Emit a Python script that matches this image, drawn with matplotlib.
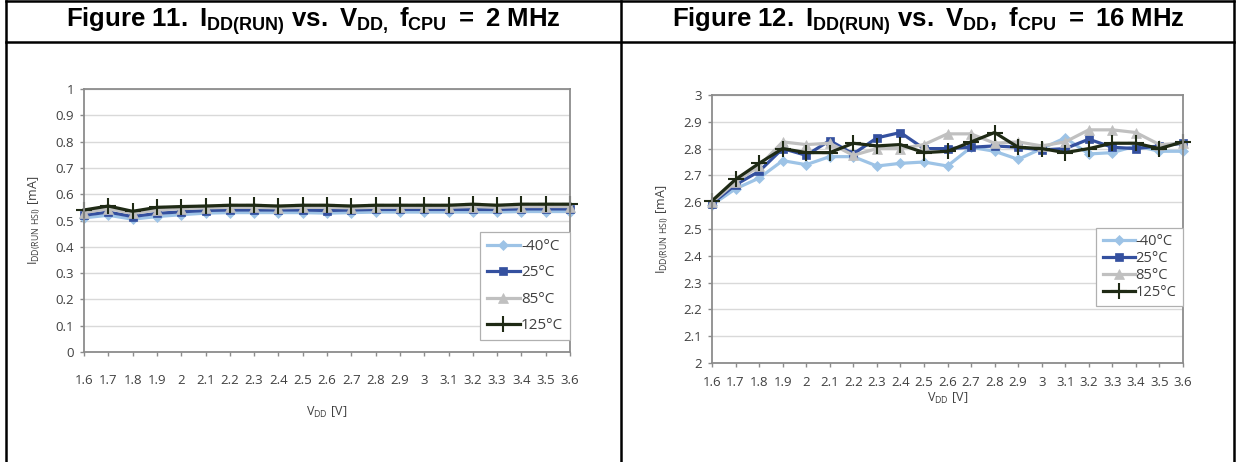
import matplotlib
matplotlib.use('Agg')
import matplotlib.pyplot as plt
from matplotlib.lines import Line2D
from matplotlib import font_manager

# supply voltage categories (x axis is categorical, evenly spaced)
vdd_labels = ['1.6', '1.7', '1.8', '1.9', '2', '2.1', '2.2', '2.3', '2.4', '2.5', '2.6',
              '2.7', '2.8', '2.9', '3', '3.1', '3.2', '3.3', '3.4', '3.5', '3.6']
temp_labels = ['-40°C', '25°C', '85°C', '125°C']

# Figure 11, fCPU = 2 MHz, IDD in mA
idd_2mhz_m40 = [0.510, 0.520, 0.505, 0.515, 0.522, 0.528, 0.530, 0.530, 0.530, 0.530, 0.528,
                0.530, 0.532, 0.532, 0.532, 0.532, 0.532, 0.532, 0.534, 0.534, 0.534]
idd_2mhz_25 = [0.520, 0.532, 0.515, 0.527, 0.533, 0.538, 0.540, 0.540, 0.540, 0.540, 0.538,
               0.540, 0.542, 0.542, 0.542, 0.542, 0.542, 0.542, 0.544, 0.544, 0.544]
idd_2mhz_85 = [0.530, 0.545, 0.527, 0.540, 0.545, 0.548, 0.550, 0.550, 0.548, 0.550, 0.550,
               0.548, 0.550, 0.550, 0.550, 0.550, 0.553, 0.550, 0.553, 0.553, 0.553]
idd_2mhz_125 = [0.540, 0.555, 0.535, 0.550, 0.553, 0.555, 0.558, 0.558, 0.555, 0.558, 0.558,
                0.555, 0.558, 0.558, 0.558, 0.558, 0.562, 0.558, 0.562, 0.562, 0.562]

# Figure 12, fCPU = 16 MHz, IDD in mA
idd_16mhz_m40 = [2.590, 2.650, 2.690, 2.755, 2.740, 2.770, 2.770, 2.735, 2.745, 2.750, 2.735,
                 2.805, 2.790, 2.760, 2.800, 2.840, 2.780, 2.785, 2.810, 2.790, 2.790]
idd_16mhz_25 = [2.595, 2.665, 2.715, 2.800, 2.775, 2.830, 2.780, 2.840, 2.860, 2.800, 2.800,
                2.805, 2.810, 2.805, 2.795, 2.800, 2.835, 2.805, 2.800, 2.810, 2.820]
idd_16mhz_85 = [2.600, 2.675, 2.735, 2.825, 2.815, 2.820, 2.775, 2.800, 2.800, 2.815, 2.855,
                2.855, 2.820, 2.825, 2.810, 2.825, 2.870, 2.870, 2.860, 2.815, 2.820]
idd_16mhz_125 = [2.605, 2.685, 2.745, 2.800, 2.785, 2.785, 2.820, 2.810, 2.815, 2.785, 2.790,
                 2.825, 2.860, 2.805, 2.800, 2.785, 2.800, 2.820, 2.820, 2.800, 2.825]

colors = ['#9dc3e6', '#34509f', '#c0c0c0', '#1f2a15']
markers = ['D', 's', '^', '+']
msizes = [5, 6, 7, 11]

W, H = 1237, 462

names = {f.name for f in font_manager.fontManager.ttflist}
title_font = 'Liberation Sans Narrow' if 'Liberation Sans Narrow' in names else 'Liberation Sans'
plt.rcParams['font.family'] = ['Open Sans', 'DejaVu Sans']
plt.rcParams['mathtext.fontset'] = 'custom'
plt.rcParams['mathtext.rm'] = title_font + ':bold'
plt.rcParams['mathtext.sf'] = 'Open Sans'


def px_axes(fig, x0, y0, x1, y1):
    # box given in picture pixels, top-left origin
    return fig.add_axes([x0 / W, 1 - y1 / H, (x1 - x0) / W, (y1 - y0) / H])


def draw_chart(ax, series, ylim, yticks, leg_top, leg_size, leg_space, xtpad, xpad):
    xs = list(range(len(vdd_labels)))
    for vals, lab, c, m, ms in zip(series, temp_labels, colors, markers, msizes):
        ax.plot(xs, vals, color=c, lw=2.3, marker=m, ms=ms, mew=1.5 if m == '+' else 0.5,
                mec=c, label=lab, clip_on=False)
    ax.set_xlim(0, len(vdd_labels) - 1)
    ax.set_ylim(*ylim)
    ax.set_xticks(xs)
    ax.set_xticklabels(vdd_labels)
    ax.set_yticks(yticks)
    ax.set_yticklabels(['{:g}'.format(t) for t in yticks])
    ax.yaxis.grid(True, color='#d9d9d9', lw=1)
    ax.set_axisbelow(True)
    for s in ax.spines.values():
        s.set_color('#8c8c8c')
        s.set_linewidth(1.3)
    ax.tick_params(axis='x', length=3, width=1, color='#8c8c8c', pad=xtpad, labelsize=9.5,
                   labelcolor='#404040')
    ax.tick_params(axis='y', length=3, width=1, color='#8c8c8c', pad=4, labelsize=9.5,
                   labelcolor='#404040')
    ax.set_xlabel(r'$\mathsf{V_{DD}\ [V]}$', fontsize=9, color='#404040', labelpad=xpad)
    ax.set_ylabel(r'$\mathsf{I_{DD(RUN\ HSI)}\ [mA]}$', fontsize=9, color='#404040', labelpad=10)
    leg = ax.legend(loc='upper right', bbox_to_anchor=(1.0, leg_top), borderaxespad=0,
                    fontsize=leg_size, handlelength=2.2, handletextpad=0.05,
                    labelspacing=leg_space, fancybox=False, framealpha=1, borderpad=0.45)
    leg.get_frame().set_edgecolor('#b0b0b0')
    leg.get_frame().set_linewidth(0.9)
    for t in leg.get_texts():
        t.set_color('#404040')


fig = plt.figure(figsize=(W / 100, H / 100), dpi=100)

# table frame round the two figures
for (xa, ya, xb, yb) in [(6, 1, 1234, 1), (6, 42, 1234, 42), (6, 1, 6, 462),
                         (621, 1, 621, 462), (1234, 1, 1234, 462)]:
    fig.add_artist(Line2D([xa / W, xb / W], [1 - ya / H, 1 - yb / H], color='black', lw=1.8))

fig.text(313 / W, 1 - 21 / H,
         r'$\mathrm{Figure\;11.\;I_{DD(RUN)}\;vs.\;V_{DD,}\;f_{CPU}\;=\;2\;MHz}$',
         ha='center', va='center', fontsize=18.5)
fig.text(928 / W, 1 - 21 / H,
         r'$\mathrm{Figure\;12.\;I_{DD(RUN)}\;vs.\;V_{DD},\;f_{CPU}\;=\;16\;MHz}$',
         ha='center', va='center', fontsize=18.5)

ax1 = px_axes(fig, 84, 89, 570, 352)
draw_chart(ax1, [idd_2mhz_m40, idd_2mhz_25, idd_2mhz_85, idd_2mhz_125],
           (0, 1), [i / 10 for i in range(11)], 0.456, 11, 0.75, 13, 13)

ax2 = px_axes(fig, 712, 95, 1183, 363)
draw_chart(ax2, [idd_16mhz_m40, idd_16mhz_25, idd_16mhz_85, idd_16mhz_125],
           (2, 3), [2 + i / 10 for i in range(11)], 0.504, 10.5, 0.12, 6, 1.5)

fig.savefig('out.png', dpi=100)
